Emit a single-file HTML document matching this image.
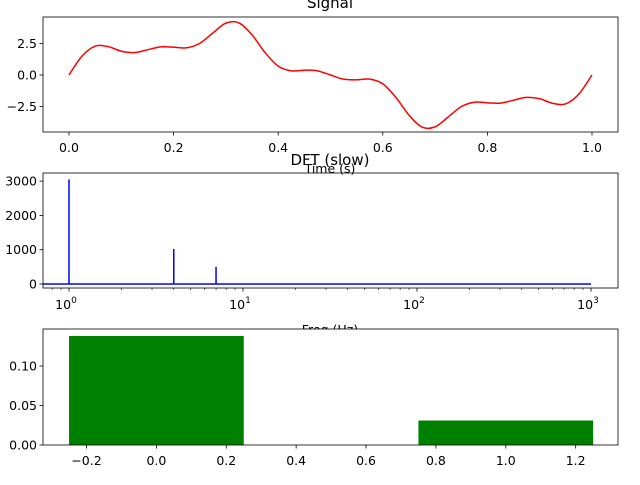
<!DOCTYPE html>
<html><head><meta charset="utf-8"><style>
body{margin:0;background:#fff;}
svg text{font-family:"DejaVu Sans","Liberation Sans",sans-serif;fill:#000;}
</style></head><body>
<svg id="fig" width="640" height="480" xmlns="http://www.w3.org/2000/svg"></svg>
<script>
// Signal panel data
const sigT=[0,0.025,0.05,0.075,0.1,0.125,0.15,0.175,0.2,0.225,0.25,0.275,0.3,0.325,0.35,0.375,0.4,0.425,0.45,0.475,0.5,0.525,0.55,0.575,0.6,0.625,0.65,0.675,0.7,0.725,0.75,0.775,0.8,0.825,0.85,0.875,0.9,0.925,0.95,0.975,1];
const sigY=[0,1.50,2.28,2.24,1.88,1.77,1.99,2.22,2.20,2.15,2.5,3.32,4.10,4.12,3.17,1.77,0.70,0.33,0.38,0.33,0,-0.33,-0.38,-0.33,-0.70,-1.77,-3.17,-4.12,-4.10,-3.32,-2.5,-2.15,-2.20,-2.22,-1.99,-1.77,-1.88,-2.24,-2.28,-1.50,0];
const sigXTicks=[0,0.2,0.4,0.6,0.8,1.0];
const sigXLabels=["0.0","0.2","0.4","0.6","0.8","1.0"];
const sigYTicks=[2.5,0,-2.5];
const sigYLabels=["2.5","0.0","−2.5"];
// DFT panel data
const dftPeakF=[1,4,7];
const dftPeakMag=[3050,1020,500];
const dftRange=[0.5,1000];
const dftYTicks=[0,1000,2000,3000];
const dftYLabels=["0","1000","2000","3000"];
const dftXTicks=[1,10,100,1000];
const dftXExp=["0","1","2","3"];
// Bar panel data
const barX=[0,1];
const barH=[0.138,0.031];
const barW=0.5;
const barXTicks=[-0.2,0,0.2,0.4,0.6,0.8,1.0,1.2];
const barXLabels=["−0.2","0.0","0.2","0.4","0.6","0.8","1.0","1.2"];
const barYTicks=[0,0.05,0.10];
const barYLabels=["0.00","0.05","0.10"];

const svg=document.getElementById('fig');
const NS="http://www.w3.org/2000/svg";
function mk(tag,a,parent){const e=document.createElementNS(NS,tag);for(const k in a)e.setAttribute(k,a[k]);(parent||svg).appendChild(e);return e;}
function txt(s,x,y,anchor,size,parent){const e=mk('text',{x:x,y:y,'text-anchor':anchor,'font-size':size},parent);e.textContent=s;return e;}
const TS=12.5;
const L=43,R=618;
// ---------- Panel 1 ----------
{
const T=17,B=132;
const xs=t=>69+t*523, ys=v=>75-v*12.65;
const g=mk('g',{});


let d='';
for(let i=0;i<sigT.length;i++){
  const p0=i>0?i-1:i, p2=i+1<sigT.length?i+1:i, p3=i+2<sigT.length?i+2:p2;
  if(i===0){d+='M'+xs(sigT[0])+','+ys(sigY[0]);}
  if(i+1<sigT.length){
    const x1=xs(sigT[i]),y1=ys(sigY[i]),x2=xs(sigT[i+1]),y2=ys(sigY[i+1]);
    const c1x=x1+(x2-xs(sigT[p0]))/6,c1y=y1+(y2-ys(sigY[p0]))/6;
    const c2x=x2-(xs(sigT[p3])-x1)/6,c2y=y2-(ys(sigY[p3])-y1)/6;
    d+=' C'+c1x+','+c1y+' '+c2x+','+c2y+' '+x2+','+y2;
  }
}
const line=mk('path',{d:d,fill:'none',stroke:'#ff0000','stroke-width':1.5},g);


const fr=mk('rect',{x:L,y:T,width:R-L,height:B-T,fill:'none',stroke:'#000','stroke-width':0.8},g);


sigXTicks.forEach((t,i)=>{const x=xs(t);mk('line',{x1:x,x2:x,y1:B,y2:B+3.5,stroke:'#000','stroke-width':0.8},g);txt(sigXLabels[i],x,B+20,'middle',TS,g);});
sigYTicks.forEach((v,i)=>{const y=ys(v);mk('line',{x1:L,x2:L-3.5,y1:y,y2:y,stroke:'#000','stroke-width':0.8},g);txt(sigYLabels[i],L-6,y+4.5,'end',TS,g);});
const ti=txt('Signal',330,8,'middle',15,g);


const xl=txt('Time (s)',330,173,'middle',TS,g);


}
// ---------- Panel 2 ----------
{
const T=173,B=288;
const xs=f=>Math.max(L,69+Math.log10(f)*174), ys=v=>284-v*0.0343;
const g=mk('g',{});


const base=mk('line',{x1:xs(dftRange[0]),x2:xs(dftRange[1]),y1:ys(0),y2:ys(0),stroke:'#0000ff','stroke-width':1.5},g);


dftPeakF.forEach((f,i)=>{
  const l=mk('line',{x1:xs(f),x2:xs(f),y1:ys(0),y2:ys(dftPeakMag[i]),stroke:'#0000ff','stroke-width':1.5},g);
  
  
});
const fr=mk('rect',{x:L,y:T,width:R-L,height:B-T,fill:'none',stroke:'#000','stroke-width':0.8},g);


for(let dec=-1;dec<=3;dec++)for(let m=2;m<=9;m++){const x=69+Math.log10(m*Math.pow(10,dec))*174;if(x>L&&x<R)mk('line',{x1:x,x2:x,y1:B,y2:B+2,stroke:'#000','stroke-width':0.6},g);}
dftXTicks.forEach((f,i)=>{const x=xs(f);mk('line',{x1:x,x2:x,y1:B,y2:B+3.5,stroke:'#000','stroke-width':0.8},g);
  const t=txt('10',x-3,B+21,'middle',TS,g);const s=mk('tspan',{dy:-6,'font-size':9},t);s.textContent=dftXExp[i];});
dftYTicks.forEach((v,i)=>{const y=ys(v);mk('line',{x1:L,x2:L-3.5,y1:y,y2:y,stroke:'#000','stroke-width':0.8},g);txt(dftYLabels[i],L-6,y+4.5,'end',TS,g);});
const ti=txt('DFT (slow)',330,165,'middle',15,g);


const xl=txt('Freq (Hz)',330,334,'middle',TS,g);


}
// ---------- Panel 3 ----------
{
const T=329,B=445;
const xs=v=>156.4+v*349.4, ys=v=>445-v*790;
const g=mk('g',{});


mk('rect',{x:L,y:T,width:R-L,height:B-T,fill:'#fff'},g);
barX.forEach((x,i)=>{
  const r=mk('rect',{x:xs(x-barW/2),y:ys(barH[i]),width:xs(x+barW/2)-xs(x-barW/2),height:ys(0)-ys(barH[i]),fill:'#008000'},g);
  
  
});
const fr=mk('rect',{x:L,y:T,width:R-L,height:B-T,fill:'none',stroke:'#000','stroke-width':0.8},g);


barXTicks.forEach((t,i)=>{const x=xs(t);mk('line',{x1:x,x2:x,y1:B,y2:B+3.5,stroke:'#000','stroke-width':0.8},g);txt(barXLabels[i],x,B+20,'middle',TS,g);});
barYTicks.forEach((v,i)=>{const y=ys(v);mk('line',{x1:L,x2:L-3.5,y1:y,y2:y,stroke:'#000','stroke-width':0.8},g);txt(barYLabels[i],L-6,y+4.5,'end',TS,g);});
}
</script>
</body></html>
